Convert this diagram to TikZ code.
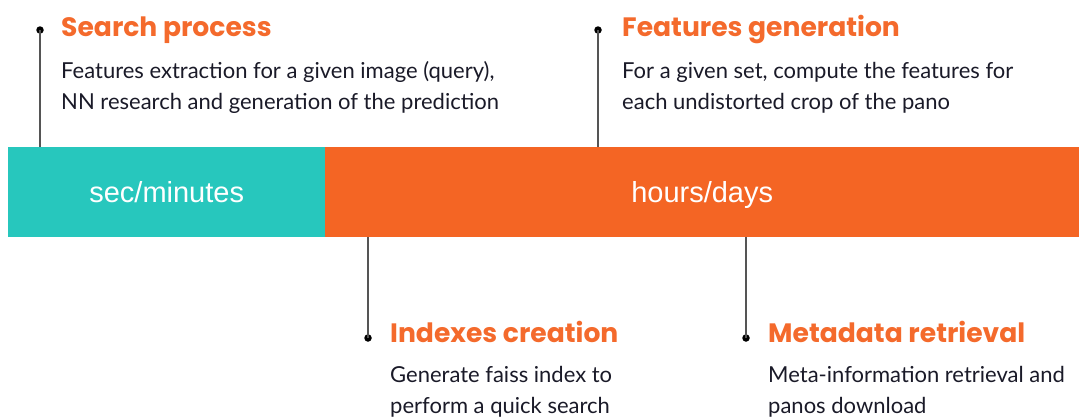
\documentclass[tikz,border=0pt]{standalone}
\usepackage{fontspec}
\setmainfont{Lato}
\newfontfamily\headfont{Poppins}
\newfontfamily\barfont{Liberation Sans}
\definecolor{teal}{HTML}{27C7BD}
\definecolor{tangerine}{HTML}{F46524}
\definecolor{headorange}{HTML}{F46A2C}
\definecolor{stem}{HTML}{555555}
\definecolor{bodyink}{HTML}{1A1A28}
\tikzset{
  segment/.style={anchor=north west, inner sep=0pt, minimum height=90pt,
    text height=21pt, text depth=0pt,
    text=white, font=\barfont\fontsize{29}{31}\selectfont},
  pin/.style={circle, fill=black, inner sep=0pt, minimum size=7.5pt},
  stemline/.style={draw=stem, line width=2pt},
  heading/.style={anchor=base west, inner sep=0pt, text=headorange,
    font=\headfont\bfseries\fontsize{26.6}{30}\selectfont},
  % anchored at the baseline of the last line
  blurb/.style={anchor=base west, inner sep=0pt, align=left, text=bodyink,
    font=\fontsize{22}{31}\selectfont}
}
\begin{document}
\begin{tikzpicture}[x=1pt,y=-1pt]
  \useasboundingbox (0,0) rectangle (1079,418);
  % time-scale bar
  \node[segment, fill=teal, minimum width=317pt] (fast) at (8,147) {sec/minutes};
  \node[segment, fill=tangerine, minimum width=754pt] (slow) at (325,147) {hours/days};

  % pins
  \node[pin] (p1) at (40,30) {};
  \node[pin] (p2) at (598,30) {};
  \node[pin] (p3) at (368,338) {};
  \node[pin] (p4) at (746,338) {};
  \draw[stemline] (p1.center) -- (p1 |- fast.north);
  \draw[stemline] (p2.center) -- (p2 |- slow.north);
  \draw[stemline] (p3.center) -- (p3 |- slow.south);
  \draw[stemline] (p4.center) -- (p4 |- slow.south);

  % upper stage descriptions
  \node[heading] (h1) at (61,36) {Search process};
  \node[blurb] (b1) at (61,109) {Features extraction for a given image (query),\\NN research and generation of the prediction};
  \node[heading] (h2) at (622,36) {Features generation};
  \node[blurb] (b2) at (622,109) {For a given set, compute the features for\\each undistorted crop of the pano};

  % lower stage descriptions
  \node[heading] (h3) at (390,342) {Indexes creation};
  \node[blurb] (b3) at (390,413) {Generate faiss index to\\perform a quick search};
  \node[heading] (h4) at (768,342) {Metadata retrieval};
  \node[blurb] (b4) at (768,413) {Meta-information retrieval and\\panos download};
\end{tikzpicture}
\end{document}
